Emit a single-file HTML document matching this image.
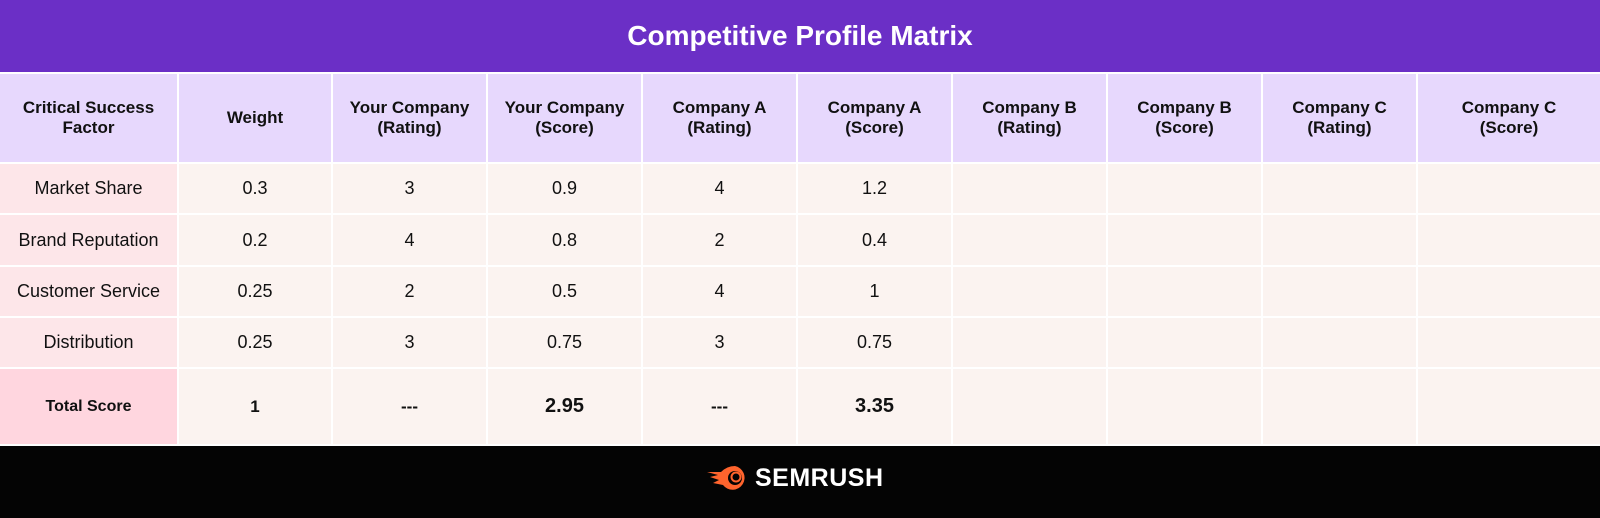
<!DOCTYPE html>
<html><head><meta charset="utf-8"><style>
body{margin:0;width:1600px;height:518px;position:relative;overflow:hidden;background:#fff;font-family:"Liberation Sans",sans-serif}
.c{position:absolute;display:flex;align-items:center;justify-content:center;text-align:center;color:#111;font-size:18px;line-height:21px}
.h{font-weight:bold;font-size:17px;line-height:20px;background:#e7d8fd}
</style></head><body>
<div style="position:absolute;left:0;top:0;width:1600px;height:72px;background:#6b2fc6;display:flex;align-items:center;justify-content:center;color:#fff;font-weight:bold;font-size:28px;">Competitive Profile Matrix</div>
<div id="grid"></div>
<div style="position:absolute;left:0;top:446px;width:1600px;height:72px;background:#040404;"></div>
<div style="position:absolute;left:707px;top:463px;height:30px;display:flex;align-items:center;gap:8px;">
<svg width="40" height="26" viewBox="0 0 40 26"><path d="M0 7 L14 7 Q20 1 28 1 A12 12 0 1 1 16 20 L6 18 L12 15 L3 12 L11 10 Z" fill="#ff642d"/><circle cx="28" cy="13" r="7" fill="#040404"/><circle cx="29" cy="12" r="4.5" fill="none" stroke="#ff642d" stroke-width="2"/></svg>
<span style="color:#fff;font-weight:bold;font-size:25px;letter-spacing:0.5px">SEMRUSH</span></div>
<script>
const headers=["Critical Success<br>Factor","Weight","Your Company<br>(Rating)","Your Company<br>(Score)","Company A<br>(Rating)","Company A<br>(Score)","Company B<br>(Rating)","Company B<br>(Score)","Company C<br>(Rating)","Company C<br>(Score)"];
const factors=["Market Share","Brand Reputation","Customer Service","Distribution"];
const weights=["0.3","0.2","0.25","0.25"];
const yourRating=["3","4","2","3"];
const yourScore=["0.9","0.8","0.5","0.75"];
const aRating=["4","2","4","3"];
const aScore=["1.2","0.4","1","0.75"];
const totals=["Total Score","1","---","2.95","---","3.35","","","",""];
const colX=[0,179,333,488,643,798,953,1108,1263,1418,1602];
const rowY=[74,164,215,267,318,369,446];
const g=document.getElementById('grid');
function cell(col,row,html,cls,bg,name){
 const d=document.createElement('div');
 d.className='c '+cls;
 d.style.left=colX[col]+'px';d.style.top=rowY[row]+'px';
 d.style.width=(colX[col+1]-colX[col]-2)+'px';d.style.height=(rowY[row+1]-rowY[row]-2)+'px';
 if(bg)d.style.background=bg;
 d.innerHTML=html;
 
 
 g.appendChild(d);return d;
}
headers.forEach((h,i)=>cell(i,0,h,'h',null,'header-cell'));
factors.forEach((f,r)=>{
 const vals=[f,weights[r],yourRating[r],yourScore[r],aRating[r],aScore[r],"","","",""];
 vals.forEach((v,i)=>cell(i,r+1,v,'',i==0?'#fde6e9':'#fbf3f0','data-cell'));
});
totals.forEach((v,i)=>{
 const d=cell(i,5,v,'',i==0?'#ffd6df':'#fbf3f0','total-cell');
 d.style.fontWeight='bold';
 d.style.fontSize=(i==3||i==5)?'20px':(i==0?'16px':'17px');
});
</script>
</body></html>
